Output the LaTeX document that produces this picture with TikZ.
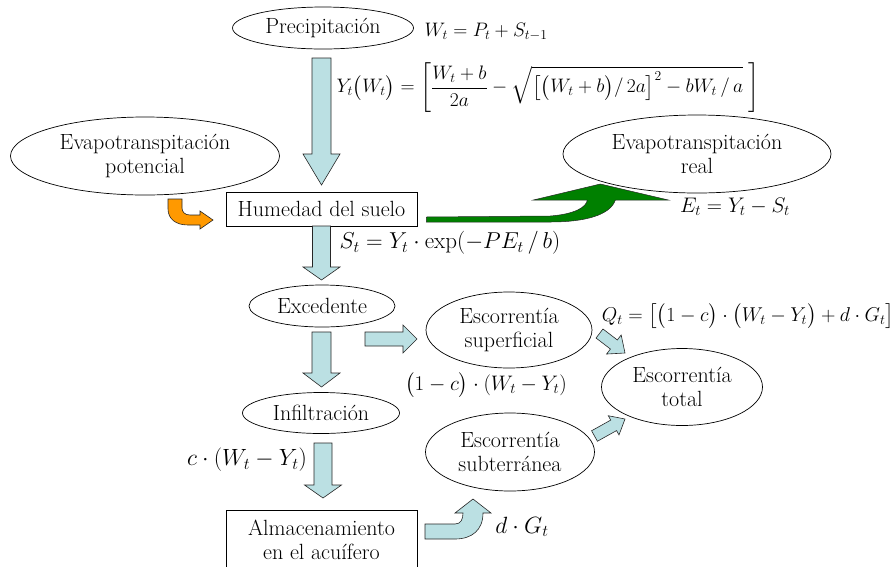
\RequirePackage{fix-cm}
\documentclass[tikz,border=0pt]{standalone}
\usepackage{amsmath}
\usetikzlibrary{shapes.geometric,calc}
\definecolor{pptblue}{HTML}{BBE0E3}
\definecolor{pptorange}{HTML}{FF9900}
\definecolor{pptgreen}{HTML}{008000}
% straight block arrow: [style]{from}{to}{shaft half width}{head half width}{head length}
\newcommand\blockarrow[6][]{%
  \coordinate (ba-H) at ($(#3)!#6!(#2)$);
  \draw[#1] ($(#2)!#4!90:(#3)$) -- ($(ba-H)!#4!-90:(#2)$) -- ($(ba-H)!#5!-90:(#2)$)
    -- (#3) -- ($(ba-H)!#5!90:(#2)$) -- ($(ba-H)!#4!90:(#2)$) -- ($(#2)!#4!-90:(#3)$) -- cycle;
}
\newcommand\fsz[1]{\fontsize{#1}{#1}\selectfont}
\begin{document}
\begin{tikzpicture}[x=1pt,y=-1pt,
  txt/.style={font=\fontsize{22}{24}\selectfont, align=center},
  ell/.style={draw, ellipse, inner sep=0pt, line width=0.7pt, txt},
  boxnode/.style={draw, rectangle, inner sep=0pt, line width=0.7pt, txt},
  fml/.style={inner sep=0pt},
  bluearr/.style={draw=black!85, fill=pptblue, line width=0.6pt, line join=miter},
  orangearr/.style={draw=black!85, fill=pptorange, line width=0.6pt, line join=miter},
  greenarr/.style={draw=black!85, fill=pptgreen, line width=0.5pt, line join=miter}
]
\useasboundingbox (0,0) rectangle (895,566);
\clip (0,0) rectangle (895,566);

% nodes
\node[ell, minimum width=181pt, minimum height=42pt] (prec) at (323,28) {Precipitación};
\node[ell, minimum width=269pt, minimum height=78pt] (etp) at (145,156) {Evapotranspitación\\potencial};
\node[ell, minimum width=268pt, minimum height=78pt] (etr) at (697,154) {Evapotranspitación\\real};
\node[boxnode, minimum width=191pt, minimum height=34pt] (hum) at (321.5,209) {Humedad del suelo};
\node[ell, minimum width=146pt, minimum height=42pt] (exc) at (322,306) {Excedente};
\node[ell, minimum width=166pt, minimum height=76pt] (esup) at (509,330) {Escorrentía\\superficial};
\node[ell, minimum width=169pt, minimum height=78pt] (esub) at (510,452) {Escorrentía\\subterránea};
\node[ell, minimum width=161pt, minimum height=77pt] (etot) at (682,387) {Escorrentía\\total};
\node[ell, minimum width=157pt, minimum height=41pt] (inf) at (321,413) {Infiltración};
\node[boxnode, minimum width=191pt, minimum height=60pt] (alm) at (321.5,540) {Almacenamiento\\en el acuífero};

% formulas
\node[fml, font=\fsz{19.5}] (fW) at (486,32) {$W_t = P_t + S_{t-1}$};
\node[fml, font=\fsz{19.5}] (fY) at (548,88) {$Y_t\bigl(W_t\bigr) = \left[\dfrac{W_t+b}{2a} - \sqrt{\bigl[\bigl(W_t+b\bigr)/\,2a\bigr]^2 - bW_t\,/\,a}\;\right]$};
\node[fml, font=\fsz{21.1}] (fE) at (735,207) {$E_t = Y_t - S_t$};
\node[fml, font=\fsz{23}] (fS) at (450,243) {$S_t = Y_t\cdot\exp(-PE_t\,/\,b)$};
\node[fml, font=\fsz{20}] (fQ) at (748,316) {$Q_t = \bigl[\bigl(1-c\bigr)\cdot\bigl(W_t - Y_t\bigr) + d\cdot G_t\bigr]$};
\node[fml, font=\fsz{21}] (fsup) at (486,385) {$\bigl(1-c\bigr)\cdot(W_t - Y_t)$};
\node[fml, font=\fsz{23.5}] (finf) at (247,460) {$c\cdot(W_t - Y_t)$};
\node[fml, font=\fsz{23.5}] (fG) at (522,527) {$d\cdot G_t$};

% arrow end points
\coordinate (a1s) at (321.5,58);  \coordinate (a1e) at (321.5,185);
\coordinate (a2s) at (321.5,226); \coordinate (a2e) at (321.5,280);
\coordinate (a3s) at (321.5,332); \coordinate (a3e) at (321.5,387);
\coordinate (a4s) at (323,443);   \coordinate (a4e) at (323,498);
\coordinate (a5s) at (365,339);   \coordinate (a5e) at (417,339);
\coordinate (a6s) at (599.5,333.5); \coordinate (a6e) at (625,353);
\coordinate (a7s) at (594.5,436); \coordinate (a7e) at (625,419);

\blockarrow[bluearr]{a1s}{a1e}{9.5pt}{18.5pt}{31pt}
\blockarrow[bluearr]{a2s}{a2e}{9pt}{18.5pt}{13pt}
\blockarrow[bluearr]{a3s}{a3e}{9.5pt}{18.5pt}{14pt}
\blockarrow[bluearr]{a4s}{a4e}{9pt}{18.5pt}{13pt}
\blockarrow[bluearr]{a5s}{a5e}{7pt}{14pt}{14pt}
\blockarrow[bluearr]{a6s}{a6e}{5.7pt}{12pt}{14pt}
\blockarrow[bluearr]{a7s}{a7e}{6pt}{11pt}{13pt}

% curved arrows
\draw[orangearr] (168,199) -- (182,199) -- (182,208) .. controls (182,212) and (185,215) .. (190,215)
  -- (200,215) -- (200,211) -- (213,220) -- (200,229) -- (200,225) -- (188,225)
  .. controls (176,225) and (168,219) .. (168,209) -- cycle;

\draw[greenarr, shift={(hum.east)}] (9,8) -- (133,7) .. controls (158,5) and (169,-2) .. (170,-9)
  -- (116,-9) -- (183,-25) -- (251,-9) -- (198,-9)
  .. controls (193,6) and (168,13) .. (133,13) -- (9,13) -- cycle;

\draw[bluearr] (425,524) -- (455,524) .. controls (461,524) and (463,519) .. (463,513)
  -- (455,513) -- (473,499) -- (491,513) -- (483,513)
  .. controls (483,530) and (472,539) .. (455,539) -- (425,539) -- cycle;
\end{tikzpicture}
\end{document}
